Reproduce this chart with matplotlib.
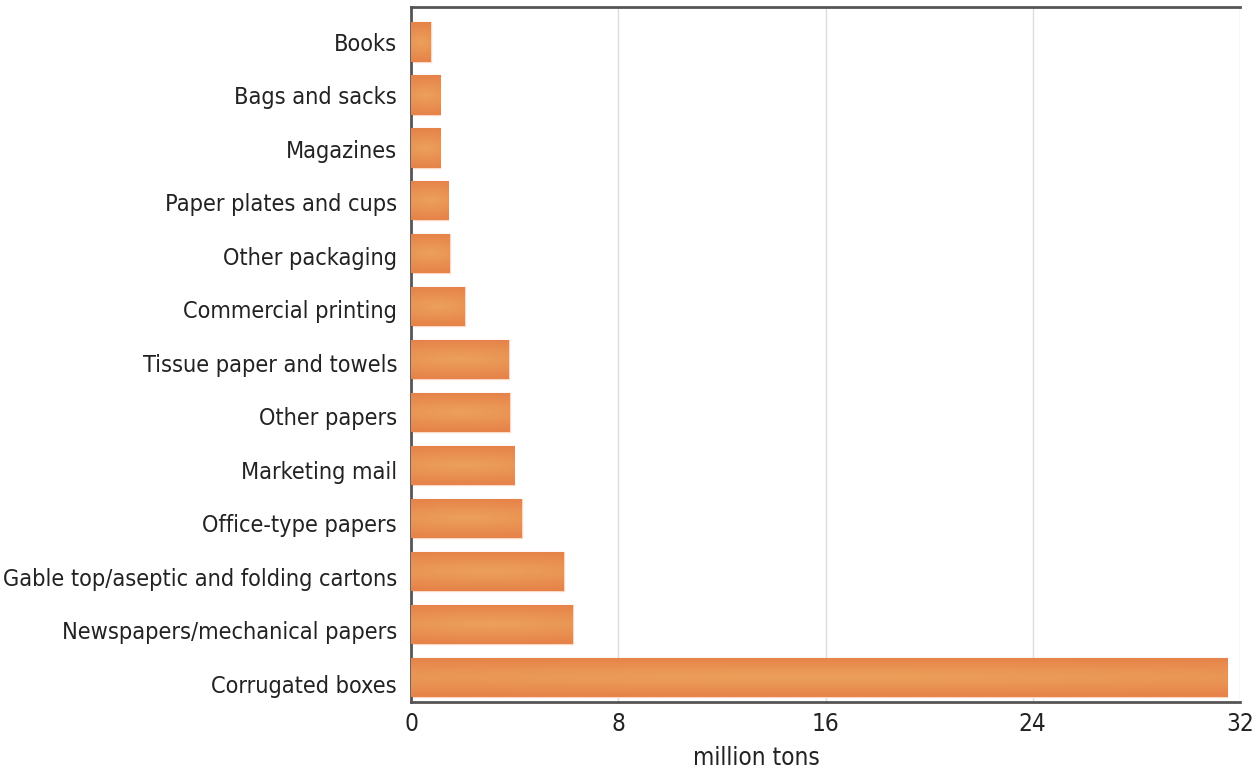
import matplotlib.pyplot as plt
import numpy as np
from matplotlib import font_manager as fm
from matplotlib.colors import LinearSegmentedColormap
from matplotlib.transforms import ScaledTranslation

categories = ["Corrugated boxes", "Newspapers/mechanical papers",
              "Gable top/aseptic and folding cartons", "Office-type papers",
              "Marketing mail", "Other papers", "Tissue paper and towels",
              "Commercial printing", "Other packaging", "Paper plates and cups",
              "Magazines", "Bags and sacks", "Books"]
values = [31.5, 6.25, 5.9, 4.28, 3.98, 3.82, 3.78, 2.08, 1.5, 1.43, 1.12, 1.12, 0.77]
xticks = [0, 8, 16, 24, 32]

# narrow font if there is one, otherwise condensed DejaVu
names = [f.name for f in fm.fontManager.ttflist]
if 'Liberation Sans Narrow' in names:
    plt.rcParams['font.family'] = ['Liberation Sans Narrow', 'DejaVu Sans']
else:
    plt.rcParams['font.family'] = ['DejaVu Sans']
    plt.rcParams['font.stretch'] = 'condensed'

fig = plt.figure(figsize=(12.59, 7.72), dpi=100)
ax = fig.add_axes([411 / 1259, 1 - 702 / 772, 829 / 1259, 695 / 772])

y = np.arange(len(categories))
bars = ax.barh(y, values, height=0.74, color='#e8844a',
               edgecolor='#fbd9c4', linewidth=1.0, zorder=2)

# soft gradient inside each bar
cmap = LinearSegmentedColormap.from_list('bar', ['#eca05a', '#e6834a'])
gy = np.linspace(-1, 1, 40)[:, None]
gx = np.linspace(-1, 1, 200)[None, :]
grad = np.clip(np.sqrt(gy ** 2 + 0.15 * gx ** 2), 0, 1)
for bar in bars:
    x0, y0 = bar.get_x(), bar.get_y()
    w, h = bar.get_width(), bar.get_height()
    im = ax.imshow(grad, cmap=cmap, aspect='auto', zorder=3,
                   extent=(x0, x0 + w, y0, y0 + h), interpolation='bilinear')
    im.set_clip_path(bar)

ax.set_xlim(0, 32)
ax.set_ylim(-0.46, 12.66)
ax.set_yticks(y)
ax.set_yticklabels(categories)
ax.set_xticks(xticks)
ax.tick_params(axis='y', length=0, labelsize=16.8, colors='#222222', pad=10)
ax.tick_params(axis='x', length=0, labelsize=17.5, colors='#222222', pad=7)
for i, lab in enumerate(ax.get_yticklabels()):
    shift = ScaledTranslation(0, -(6 - i * 0.5) / 100, fig.dpi_scale_trans)
    lab.set_transform(lab.get_transform() + shift)

ax.grid(axis='x', color='#dddddd', linewidth=1, zorder=0)
ax.set_axisbelow(True)
for side in ['left', 'top', 'bottom']:
    ax.spines[side].set_color('#555555')
    ax.spines[side].set_linewidth(2)
ax.spines['right'].set_visible(False)

ax.set_xlabel('million tons', fontsize=17.5, color='#222222')
ax.xaxis.set_label_coords((756 - 411) / 829, -0.063)

fig.savefig('out.png', dpi=100)
